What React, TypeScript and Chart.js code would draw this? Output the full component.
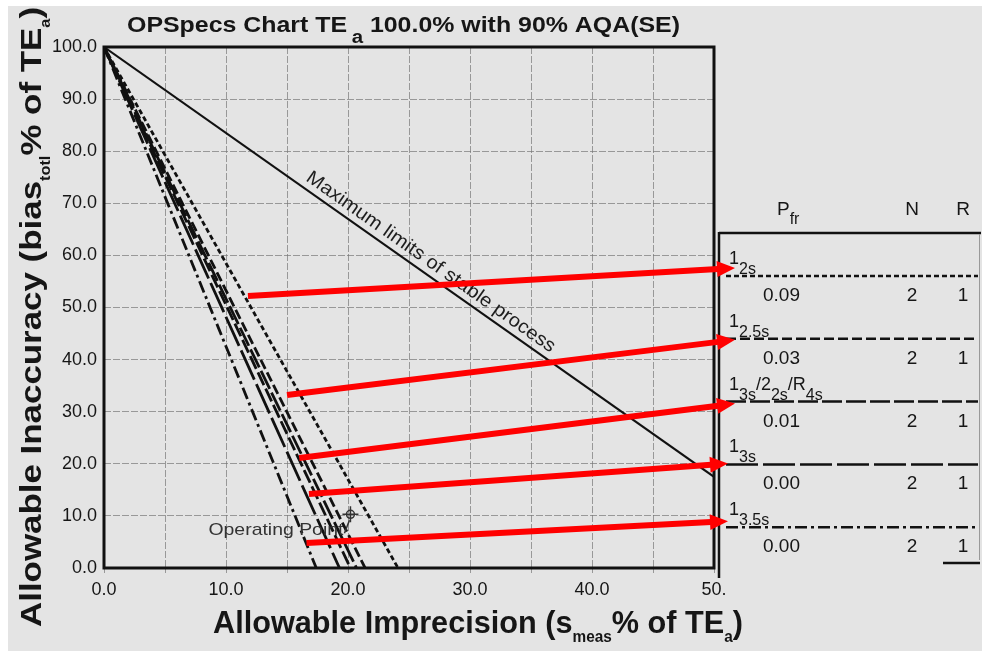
import React, { useEffect, useRef } from "react";
import { Chart, registerables } from "chart.js";
Chart.register(...registerables);

const FONT = '"Liberation Sans", Arial, Helvetica, sans-serif';

// ---------------- data ----------------
const xTickLabels = ["0.0", "10.0", "20.0", "30.0", "40.0", "50."]; // x = 0..50 step 10
const yTickLabels = ["0.0", "10.0", "20.0", "30.0", "40.0", "50.0", "60.0", "70.0", "80.0", "90.0", "100.0"];
const originX = 0;
const originY = 100;
const ruleNames = ["1_2s", "1_2.5s", "1_3s/2_2s/R_4s", "1_3s", "1_3.5s"];
const ruleIntercepts = [24.1, 21.4, 20.7, 19.3, 17.4];
const extraRuleIntercepts = [20.2];
const pfrValues = ["0.09", "0.03", "0.01", "0.00", "0.00"];
const nValues = ["2", "2", "2", "2", "2"];
const rValues = ["1", "1", "1", "1", "1"];
const stableLimitX = [0, 50];
const stableLimitY = [100, 17.5];
const stableLimitLabel = "Maximum limits of stable process";
const stableLabelAtX = 26.2;
const operatingPointX = [20.2];
const operatingPointY = [10.3];
const operatingPointLabel = "Operating Point";
const arrowStartX = [11.8, 15.0, 16.0, 16.8, 16.6];
const arrowStartY = [52.2, 33.2, 21.1, 14.2, 4.8];

// ---------------- styles ----------------
const ruleDashes = [[5, 3], [10, 4], [20, 4], [32, 5], [12, 4, 3, 4]];
const extraDash = [14, 4];
const INK = "#161616";

type Seg = { t: string; size: number; dy: number; gap?: number };

function drawRich(ctx: CanvasRenderingContext2D, segs: Seg[], x: number, y: number, weight: string, targetW?: number) {
  const widths = segs.map((s) => {
    ctx.font = `${weight} ${s.size}px ${FONT}`;
    return ctx.measureText(s.t).width + (s.gap || 0);
  });
  const total = widths.reduce((a, b) => a + b, 0);
  const sx = targetW ? targetW / total : 1;
  ctx.save();
  ctx.translate(x, y);
  ctx.scale(sx, 1);
  ctx.textAlign = "left";
  ctx.textBaseline = "alphabetic";
  let cx = 0;
  segs.forEach((s, i) => {
    ctx.font = `${weight} ${s.size}px ${FONT}`;
    ctx.fillText(s.t, cx + (s.gap || 0), s.dy);
    cx += widths[i];
  });
  ctx.restore();
}

function ruleSegs(name: string): Seg[] {
  const segs: Seg[] = [];
  name.split("/").forEach((part, i) => {
    const [main, sub] = part.split("_");
    segs.push({ t: (i > 0 ? "/" : "") + main, size: 18, dy: 0 });
    if (sub) segs.push({ t: sub, size: 16, dy: 10 });
  });
  return segs;
}

function drawArrow(ctx: CanvasRenderingContext2D, x0: number, y0: number, x1: number, y1: number) {
  const ang = Math.atan2(y1 - y0, x1 - x0);
  const hl = 18, hw = 8;
  const c = Math.cos(ang), s = Math.sin(ang);
  const bx = x1 - hl * c, by = y1 - hl * s;
  ctx.save();
  ctx.strokeStyle = "#ff0000";
  ctx.fillStyle = "#ff0000";
  ctx.lineWidth = 6;
  ctx.lineCap = "butt";
  ctx.setLineDash([]);
  ctx.beginPath();
  ctx.moveTo(x0, y0);
  ctx.lineTo(bx + c, by + s);
  ctx.stroke();
  ctx.beginPath();
  ctx.moveTo(x1, y1);
  ctx.lineTo(bx - hw * s, by + hw * c);
  ctx.lineTo(bx + hw * s, by - hw * c);
  ctx.closePath();
  ctx.fill();
  ctx.restore();
}

const decorPlugin = {
  id: "decor",
  beforeDraw(chart: any) {
    const ctx = chart.ctx as CanvasRenderingContext2D;
    ctx.save();
    ctx.fillStyle = "#ffffff";
    ctx.fillRect(0, 0, chart.width, chart.height);
    ctx.fillStyle = "#e4e4e4";
    ctx.fillRect(8, 6, chart.width - 8, chart.height - 6);
    ctx.restore();
  },
  afterDraw(chart: any) {
    const ctx = chart.ctx as CanvasRenderingContext2D;
    const { left, right, top, bottom } = chart.chartArea;
    const xs = chart.scales.x, ys = chart.scales.y;
    ctx.save();

    // frame
    ctx.strokeStyle = "#111";
    ctx.lineWidth = 3;
    ctx.setLineDash([]);
    ctx.strokeRect(left, top, right - left, bottom - top);

    ctx.fillStyle = INK;
    // title
    drawRich(ctx, [
      { t: "OPSpecs Chart TE", size: 22, dy: 0 },
      { t: "a", size: 18, dy: 11, gap: 4 },
      { t: " 100.0% with 90% AQA(SE)", size: 22, dy: 0 },
    ], 127, 32, "bold", 553);

    // x title
    drawRich(ctx, [
      { t: "Allowable Imprecision (s", size: 32, dy: 0 },
      { t: "meas", size: 16, dy: 9 },
      { t: "% of TE", size: 32, dy: 0 },
      { t: "a", size: 16, dy: 9 },
      { t: ")", size: 32, dy: 0 },
    ], 213, 633, "bold", 530);

    // y title
    ctx.save();
    ctx.translate(41, 627);
    ctx.rotate(-Math.PI / 2);
    drawRich(ctx, [
      { t: "Allowable Inaccuracy (bias", size: 30, dy: 0 },
      { t: "totl", size: 14, dy: 9 },
      { t: "% of TE", size: 30, dy: 0 },
      { t: "a", size: 14, dy: 9 },
      { t: ")", size: 30, dy: 0 },
    ], 0, 0, "bold", 620);
    ctx.restore();

    // stable limit label
    const p0x = xs.getPixelForValue(stableLimitX[0]), p0y = ys.getPixelForValue(stableLimitY[0]);
    const p1x = xs.getPixelForValue(stableLimitX[1]), p1y = ys.getPixelForValue(stableLimitY[1]);
    const ang = Math.atan2(p1y - p0y, p1x - p0x);
    const fy = stableLimitY[0] + (stableLimitY[1] - stableLimitY[0]) * ((stableLabelAtX - stableLimitX[0]) / (stableLimitX[1] - stableLimitX[0]));
    ctx.save();
    ctx.translate(xs.getPixelForValue(stableLabelAtX), ys.getPixelForValue(fy));
    ctx.rotate(ang);
    ctx.font = `19px ${FONT}`;
    const lw = ctx.measureText(stableLimitLabel).width;
    ctx.scale(300 / lw, 1);
    ctx.fillStyle = "#1e1e1e";
    ctx.textAlign = "center";
    ctx.textBaseline = "alphabetic";
    ctx.fillText(stableLimitLabel, 0, -7);
    ctx.restore();

    // operating point label
    const opx = xs.getPixelForValue(operatingPointX[0]);
    const opy = ys.getPixelForValue(operatingPointY[0]);
    ctx.fillStyle = "#333";
    drawRich(ctx, [{ t: operatingPointLabel, size: 17, dy: 0 }], opx - 142, opy + 21, "normal", 135);
    ctx.strokeStyle = "#333";
    ctx.lineWidth = 1.5;
    ctx.beginPath();
    ctx.moveTo(opx - 1, opy + 6);
    ctx.lineTo(opx - 6, opy + 19);
    ctx.stroke();

    // legend panel
    ctx.strokeStyle = "#111";
    ctx.lineWidth = 2.5;
    ctx.beginPath();
    ctx.moveTo(719, 233);
    ctx.lineTo(981, 233);
    ctx.moveTo(719, 232);
    ctx.lineTo(719, 578);
    ctx.moveTo(943, 563);
    ctx.lineTo(980, 563);
    ctx.stroke();
    ctx.strokeStyle = "#999";
    ctx.lineWidth = 1;
    ctx.beginPath();
    ctx.moveTo(979.5, 234);
    ctx.lineTo(979.5, 560);
    ctx.stroke();

    ctx.fillStyle = INK;
    drawRich(ctx, [{ t: "P", size: 19, dy: 0 }, { t: "fr", size: 16, dy: 9 }], 777, 215, "normal");
    ctx.font = `19px ${FONT}`;
    ctx.textAlign = "center";
    ctx.fillText("N", 912, 215);
    ctx.fillText("R", 963, 215);

    const tipOffsets = [[735, -8], [735, 1], [735, 2], [728, -1], [728, -6]];
    ruleNames.forEach((name, i) => {
      const ly = 276 + i * 62.8;
      ctx.strokeStyle = "#111";
      ctx.lineWidth = 2.5;
      ctx.setLineDash(ruleDashes[i]);
      ctx.beginPath();
      ctx.moveTo(726, ly);
      ctx.lineTo(978, ly);
      ctx.stroke();
      ctx.setLineDash([]);
      ctx.fillStyle = INK;
      drawRich(ctx, ruleSegs(name), 729, ly - 12, "normal");
      ctx.font = `19px ${FONT}`;
      ctx.textAlign = "left";
      ctx.fillText(pfrValues[i], 763, ly + 25);
      ctx.textAlign = "center";
      ctx.fillText(nValues[i], 912, ly + 25);
      ctx.fillText(rValues[i], 963, ly + 25);
    });

    // arrows
    ruleNames.forEach((_, i) => {
      const sx = xs.getPixelForValue(arrowStartX[i]);
      const sy = ys.getPixelForValue(arrowStartY[i]);
      const ly = 276 + i * 62.8;
      drawArrow(ctx, sx, sy, tipOffsets[i][0], ly + tipOffsets[i][1]);
    });

    ctx.restore();
  },
};

export default function App() {
  const ref = useRef<HTMLCanvasElement>(null);
  useEffect(() => {
    document.body.style.margin = "0";
    const lineDs = (x1: number, dash: number[], w = 2.8) => ({
      type: "line" as const,
      data: [{ x: originX, y: originY }, { x: x1, y: 0 }],
      borderColor: "#111",
      borderWidth: w,
      borderDash: dash,
      pointRadius: 0,
      fill: false,
    });
    const datasets: any[] = [
      {
        type: "line",
        data: stableLimitX.map((x, i) => ({ x, y: stableLimitY[i] })),
        borderColor: "#111",
        borderWidth: 2,
        pointRadius: 0,
        fill: false,
      },
      ...ruleIntercepts.map((x1, i) => lineDs(x1, ruleDashes[i])),
      ...extraRuleIntercepts.map((x1) => lineDs(x1, extraDash)),
      {
        type: "scatter",
        data: operatingPointX.map((x, i) => ({ x, y: operatingPointY[i] })),
        pointStyle: "circle",
        pointRadius: 4,
        borderColor: "#333",
        backgroundColor: "rgba(0,0,0,0)",
        borderWidth: 1.5,
      },
      {
        type: "scatter",
        data: operatingPointX.map((x, i) => ({ x, y: operatingPointY[i] })),
        pointStyle: "cross",
        pointRadius: 8,
        borderColor: "#333",
        borderWidth: 1.5,
      },
    ];
    const gridCommon = {
      color: "rgba(120,120,120,0.7)",
      lineWidth: 1,
      drawTicks: true,
      tickLength: 5,
      tickColor: "rgba(120,120,120,0.7)",
    };
    const chart = new Chart(ref.current as HTMLCanvasElement, {
      type: "line",
      data: { datasets },
      options: {
        animation: false,
        responsive: false,
        devicePixelRatio: 1,
        events: [],
        layout: { padding: { left: 0, top: 47, right: 268, bottom: 0 } },
        plugins: { legend: { display: false }, tooltip: { enabled: false }, title: { display: false } },
        scales: {
          x: {
            type: "linear",
            min: 0,
            max: 50,
            grid: gridCommon,
            border: { display: false, dash: [7, 2] },
            ticks: {
              stepSize: 5,
              padding: 6,
              color: INK,
              font: { family: FONT, size: 18 },
              maxRotation: 0,
              autoSkip: false,
              callback: (v: any) => {
                const n = Number(v);
                return n % 10 === 0 ? xTickLabels[n / 10] : "";
              },
            },
            afterFit: (s: any) => {
              s.height = 83;
            },
          },
          y: {
            type: "linear",
            min: 0,
            max: 100,
            grid: { ...gridCommon, drawTicks: false, tickLength: 0 },
            border: { display: false, dash: [7, 2] },
            ticks: {
              stepSize: 10,
              padding: 7,
              color: INK,
              font: { family: FONT, size: 18 },
              callback: (v: any) => yTickLabels[Math.round(Number(v) / 10)],
            },
            afterFit: (s: any) => {
              s.width = 104;
            },
          },
        },
      },
      plugins: [decorPlugin],
    } as any);
    return () => chart.destroy();
  }, []);
  return (
    <div style={{ width: 982, height: 651 }}>
      <canvas ref={ref} width={982} height={651} style={{ display: "block" }} />
    </div>
  );
}
